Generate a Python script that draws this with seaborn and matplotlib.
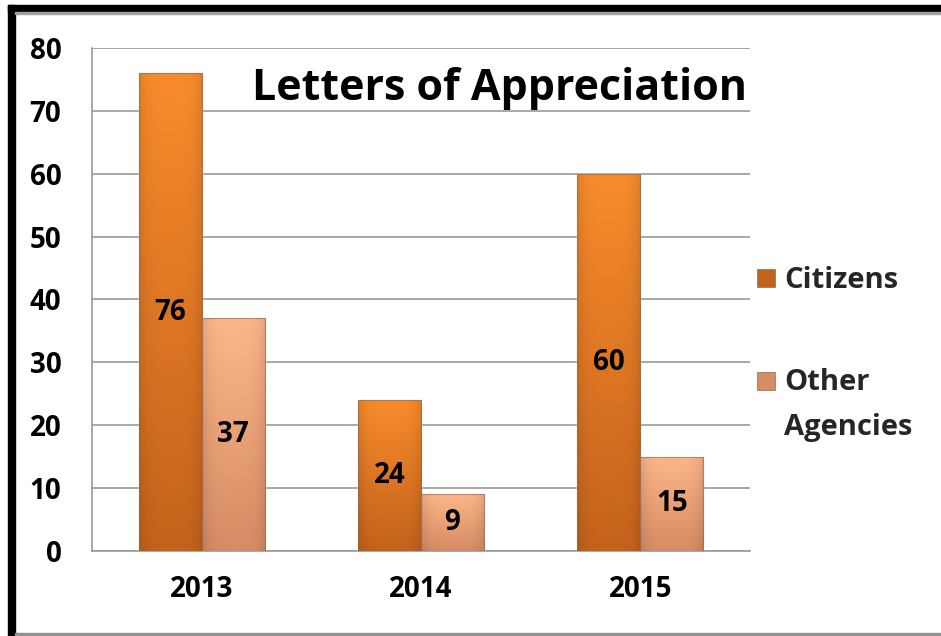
import numpy as np
import pandas as pd
import matplotlib
matplotlib.use("Agg")
import matplotlib.pyplot as plt
import matplotlib.colors as mcolors
from matplotlib.patches import Rectangle
import seaborn as sns

years = ["2013", "2014", "2015"]
citizens = [76, 24, 60]
other_agencies = [37, 9, 15]
series_names = ["Citizens", "Other\nAgencies"]
y_ticks = [0, 10, 20, 30, 40, 50, 60, 70, 80]
title_text = "Letters of Appreciation"

df = pd.DataFrame({
    "year": years * 2,
    "value": citizens + other_agencies,
    "series": [series_names[0]] * 3 + [series_names[1]] * 3,
})

sns.set_theme(style="white")
plt.rcParams["font.family"] = ["Open Sans", "DejaVu Sans"]
plt.rcParams["font.weight"] = "bold"

# (top colour, bottom colour) for the vertical gradient of each series
grad = {
    series_names[0]: ("#F88C2C", "#C4621C"),
    series_names[1]: ("#FDB68A", "#D68C64"),
}
base = {series_names[0]: "#E67A24", series_names[1]: "#F0A57A"}

fig = plt.figure(figsize=(9.41, 6.36), dpi=100)
ax = fig.add_axes([0.0978, 0.1337, 0.6992, 0.7908])

sns.barplot(data=df, x="year", y="value", hue="series", order=years,
            hue_order=series_names, palette=base, width=0.575,
            saturation=1, legend=False, ax=ax, zorder=3)

ax.set_ylim(0, 80)
ax.set_xlim(-0.5, 2.5)
ax.set_yticks(y_ticks)
ax.set_xlabel("")
ax.set_ylabel("")
ax.yaxis.grid(True, color="#9a9a9a", linewidth=1.2, zorder=0)
ax.set_axisbelow(True)
for s in ["top", "right"]:
    ax.spines[s].set_visible(False)
for s in ["left", "bottom"]:
    ax.spines[s].set_color("#9a9a9a")
    ax.spines[s].set_linewidth(1.2)

ax.tick_params(axis="y", which="major", length=9, width=1.2, color="#9a9a9a",
               direction="out", labelsize=20, pad=13)
ax.tick_params(axis="x", which="major", length=0, labelsize=20, pad=17)
ax.set_xticks([0.5, 1.5], minor=True)
ax.tick_params(axis="x", which="minor", length=9, width=1.2, color="#9a9a9a",
               direction="out")
for lab in ax.get_xticklabels() + ax.get_yticklabels():
    lab.set_fontweight("bold")
    lab.set_color("black")

# gradient fills clipped to each bar, plus value labels
patches = list(ax.patches)
values = citizens + other_agencies
names = [series_names[0]] * 3 + [series_names[1]] * 3
for p, v, n in zip(patches, values, names):
    x0, w, h = p.get_x(), p.get_width(), p.get_height()
    top, bot = mcolors.to_rgb(grad[n][0]), mcolors.to_rgb(grad[n][1])
    t = np.linspace(0, 1, 256)[:, None]
    col = np.array(top)[None, :] * (1 - t) + np.array(bot)[None, :] * t
    img = np.repeat(col[:, None, :], 32, axis=1)
    # slight darkening towards the left/right edges
    xs = np.linspace(-1, 1, 32)
    shade = 1 - 0.10 * np.abs(xs) ** 4
    img = img * shade[None, :, None]
    im = ax.imshow(img, extent=[x0, x0 + w, 0, h], aspect="auto",
                   origin="upper", zorder=3.5, interpolation="bilinear")
    im.set_clip_path(p)
    edge = Rectangle((x0, 0), w, h, fill=False, edgecolor="#8a6a55",
                     linewidth=0.8, alpha=0.6, zorder=3.6)
    ax.add_patch(edge)
    ax.text(x0 + w / 2, h / 2, str(v), ha="center", va="center",
            fontsize=20, fontweight="bold", color="black", zorder=4)
ax.set_xlim(-0.5, 2.5)
ax.set_ylim(0, 80)

ax.text(0.995, 0.962, title_text, transform=ax.transAxes, ha="right",
        va="top", fontsize=31, fontweight="bold", color="black", zorder=5)

# legend at the right
for n, ypx in [(series_names[0], 278), (series_names[1], 381)]:
    sq = Rectangle((757 / 941, 1 - (ypx + 9) / 636), 18 / 941, 18 / 636,
                   transform=fig.transFigure, facecolor=grad[n][1],
                   edgecolor="#9a7a66", linewidth=0.6)
    fig.patches.append(sq)
fig.text(784 / 941, 1 - 280 / 636, "Citizens", ha="left", va="center",
         fontsize=21, fontweight="bold")
fig.text(784 / 941, 1 - 383 / 636, "Other", ha="left", va="center",
         fontsize=21, fontweight="bold")
fig.text(784 / 941, 1 - 427 / 636, "Agencies", ha="left", va="center",
         fontsize=21, fontweight="bold")

# frame around the chart
fig.patches.append(Rectangle((8 / 941, 0), 7 / 941, 1 - 5 / 636,
                             transform=fig.transFigure, color="black"))
fig.patches.append(Rectangle((8 / 941, 1 - 12 / 636), 1, 7 / 636,
                             transform=fig.transFigure, color="black"))
fig.patches.append(Rectangle((15 / 941, 1 - 14 / 636), 1, 2 / 636,
                             transform=fig.transFigure, color="#a0a0a0"))
fig.patches.append(Rectangle((15 / 941, 0), 1, 3 / 636,
                             transform=fig.transFigure, color="#909090"))

fig.savefig("out.png", dpi=100, facecolor="white")
